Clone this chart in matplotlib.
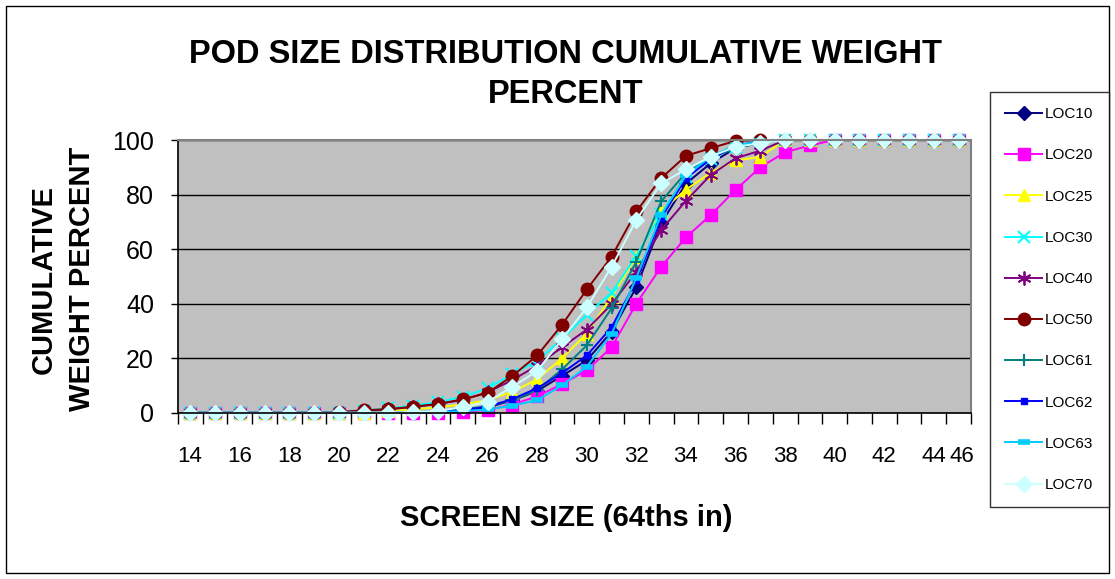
import matplotlib.pyplot as plt
from matplotlib.patches import Rectangle

plt.rcParams['font.family'] = ['Liberation Sans', 'DejaVu Sans']

# screen sizes (64ths of an inch)
sizes = list(range(14, 46))
tick_labels = ['14', '16', '18', '20', '22', '24', '26', '28', '30', '32',
               '34', '36', '38', '40', '42', '44', '46']

loc10 = [0]*10 + [0.5, 1, 2, 4.5, 8, 13.5, 19.2, 29.7, 46, 69.5, 84, 91.5, 97, 99] + [100]*8
loc20 = [0]*11 + [0.3, 1, 3, 6, 10.5, 15.5, 24, 40, 53.5, 64.3, 72.5, 81.7, 90, 95.5, 98] + [100]*6
loc25 = [0]*8 + [0.6, 1.2, 2, 3, 4.6, 7.7, 12.2, 20, 29, 42.6, 57.2, 74, 81.8, 88, 92.5, 93.8] + [100]*8
loc30 = [0]*7 + [0.8, 1.6, 2.6, 3.9, 5.9, 8.9, 14.2, 19, 27, 36, 44, 57.6, 73, 86.5, 93, 97.5, 99] + [100]*8
loc40 = [0]*7 + [0.6, 1.3, 2.1, 3.2, 4.7, 7.5, 12, 17.3, 24, 30.5, 39.8, 51.7, 67, 77.7, 87.2, 93.3, 96.1] + [100]*8
loc50 = [0]*6 + [0.3, 0.9, 1.3, 2.2, 3.2, 4.9, 7.3, 13.5, 21, 32.2, 45.2, 57.2, 73.8, 86, 94.2, 97, 99.7, 100] + [100]*8
loc61 = [0]*9 + [0.3, 0.6, 1.2, 2.4, 4.6, 8.3, 15.9, 24.7, 38.3, 55.4, 77.5, 88, 93.5, 97, 99] + [100]*8
loc62 = [0]*9 + [0.2, 0.5, 1, 2.2, 5, 9, 14.5, 21, 31.3, 48.5, 71.5, 86, 93, 98, 99.5] + [100]*8
loc63 = [0]*9 + [0.1, 0.3, 0.6, 1.2, 2.6, 4.6, 10, 16.9, 28.9, 49.5, 72.5, 87, 94, 98, 99.5] + [100]*8
loc70 = [0]*9 + [0.3, 0.7, 2, 4, 9.5, 15.3, 26.9, 38.6, 53.5, 70.7, 84.1, 89.2, 93.9, 97.5, 98.8] + [100]*8

series = [
    ('LOC10', loc10, '#000080', 'D', 7, 1),
    ('LOC20', loc20, '#FF00FF', 's', 8, 1),
    ('LOC25', loc25, '#FFFF00', '^', 8, 1),
    ('LOC30', loc30, '#00FFFF', 'x', 8, 1.5),
    ('LOC40', loc40, '#800080', (6, 2, 0), 10, 1.3),
    ('LOC50', loc50, '#800000', 'o', 9, 1),
    ('LOC61', loc61, '#008080', '+', 9, 1.5),
    ('LOC62', loc62, '#0000FF', 's', 4, 1),
    ('LOC63', loc63, '#00CCFF', '_', 8, 4),
    ('LOC70', loc70, '#CCFFFF', 'D', 8, 1),
]

fig = plt.figure(figsize=(11.15, 5.79), dpi=100)
ax = fig.add_axes([0.1594, 0.2872, 0.8709 - 0.1594, 0.7582 - 0.2872])
ax.set_facecolor('#C0C0C0')

x = list(range(len(sizes)))
for name, vals, col, mk, ms, mew in series:
    ax.plot(x, vals, color=col, marker=mk, markersize=ms, markeredgewidth=mew,
            markerfacecolor=col, markeredgecolor=col, lw=1.4, label=name, clip_on=False)

ax.set_xlim(-0.5, len(sizes) - 0.5)
ax.set_ylim(0, 100)
ax.set_yticks(range(0, 101, 20))
ax.yaxis.grid(True, color='black', lw=1)
ax.set_axisbelow(True)

# category ticks sit between the points, labels on every other one
ax.set_xticks([i - 0.5 for i in range(len(sizes) + 1)], minor=True)
ax.set_xticks(x[::2] + [x[-1] + 0.12])
ax.set_xticklabels(tick_labels)
ax.tick_params(axis='x', which='major', length=0, labelsize=16, pad=24)
ax.tick_params(axis='x', which='minor', length=8, width=1, direction='out')
ax.tick_params(axis='y', length=5, width=1, labelsize=18, pad=12)

for s in ['top', 'right']:
    ax.spines[s].set_color('#808080')
    ax.spines[s].set_linewidth(1.5)
for s in ['left', 'bottom']:
    ax.spines[s].set_color('black')
    ax.spines[s].set_linewidth(1.2)

fig.text(0.507, 0.871, 'POD SIZE DISTRIBUTION CUMULATIVE WEIGHT\nPERCENT',
         ha='center', va='center', fontsize=23.5, fontweight='bold', linespacing=1.35)
fig.text(0.508, 0.105, 'SCREEN SIZE (64ths in)', ha='center', va='center',
         fontsize=21, fontweight='bold')
fig.text(0.0565, 0.518, 'CUMULATIVE\nWEIGHT PERCENT', rotation=90, ha='center', va='center',
         fontsize=21, fontweight='bold', linespacing=1.45)

leg = fig.legend(loc='upper left', bbox_to_anchor=(990 / 1115, 1 - 92 / 579),
                 fontsize=11, frameon=True, fancybox=False, edgecolor='black',
                 labelspacing=1.78, handlelength=2.4, handletextpad=0.2,
                 borderpad=1.0, borderaxespad=0)
leg.get_frame().set_linewidth(1)

fig.patches.append(Rectangle((6 / 1115, 6 / 579), 1 - 12 / 1115, 1 - 12 / 579,
                             transform=fig.transFigure, fill=False, edgecolor='black', lw=1))

fig.savefig('out.png', dpi=100)
